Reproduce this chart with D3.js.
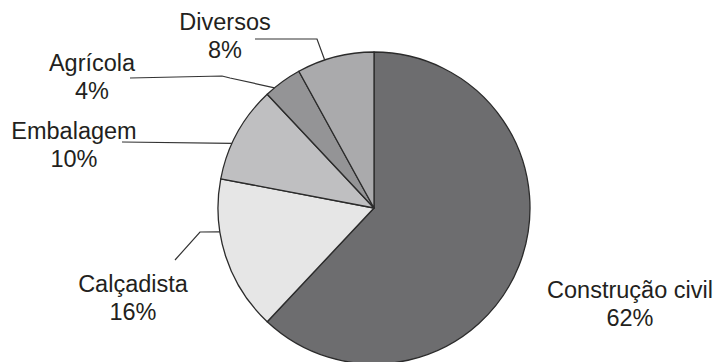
<!DOCTYPE html>
<html>
<head>
<meta charset="utf-8">
<script src="https://cdn.jsdelivr.net/npm/d3@7"></script>
<style>
  html, body { margin: 0; padding: 0; background: #fff; }
  svg { display: block; }
  text { font-family: "Liberation Sans", Arial, Helvetica, sans-serif; fill: #231f20; }
</style>
</head>
<body>
<svg id="chart" width="721" height="362"></svg>
<script>
// Sector shares (%)
const categories = ["Construção civil", "Calçadista", "Embalagem", "Agrícola", "Diversos"];
const shares = [62, 16, 10, 4, 8];
const percentLabels = ["62%", "16%", "10%", "4%", "8%"];
const fills = ["#6d6d6f", "#e6e6e6", "#bfbfc1", "#949496", "#aaaaac"];

// Label placement: text centre, and leader-line route (anchor fraction within slice, elbow points)
const labelLayout = {
  "Construção civil": { x: 630, y: 298, leader: null },
  "Calçadista":       { x: 133, y: 292, leader: { t: 0.66, pts: [[200, 232], [175, 260]] } },
  "Embalagem":        { x: 74,  y: 139, leader: { t: 0.38, pts: [[122, 142]] } },
  "Agrícola":         { x: 92,  y: 71,  leader: { t: 0.25, pts: [[230, 78], [222, 76], [130, 78]] } },
  "Diversos":         { x: 225, y: 30,  leader: { t: 0.36, pts: [[317, 39], [255, 39]] } }
};

const width = 721, height = 362;
const cx = 374, cy = 208, radius = 156;

const svg = d3.select("#chart");
const g = svg.append("g").attr("transform", `translate(${cx},${cy})`);

const pie = d3.pie().sort(null).value(d => d.value);
const arcs = pie(categories.map((c, i) => ({ name: c, value: shares[i], pct: percentLabels[i], fill: fills[i] })));

const arc = d3.arc().innerRadius(0).outerRadius(radius);

g.selectAll("path.slice")
  .data(arcs)
  .join("path")
  .attr("class", "slice")
  .attr("d", arc)
  .attr("fill", d => d.data.fill)
  .attr("stroke", "#2b2b2b")
  .attr("stroke-width", 1.3)
  .attr("stroke-linejoin", "round");

// Leader lines from the rim out to each label
const line = d3.line();
arcs.forEach(d => {
  const lay = labelLayout[d.data.name];
  if (!lay.leader) return;
  const a = d.startAngle + (d.endAngle - d.startAngle) * lay.leader.t;
  const anchor = [cx + radius * Math.sin(a), cy - radius * Math.cos(a)];
  svg.append("path")
    .attr("d", line([anchor, ...lay.leader.pts]))
    .attr("fill", "none")
    .attr("stroke", "#333")
    .attr("stroke-width", 1.2);
});

// Category and percentage labels
const labels = svg.selectAll("g.label")
  .data(arcs)
  .join("g")
  .attr("class", "label")
  .attr("transform", d => `translate(${labelLayout[d.data.name].x},${labelLayout[d.data.name].y})`);

labels.append("text")
  .attr("text-anchor", "middle")
  .attr("font-size", 23.5)
  .text(d => d.data.name);

labels.append("text")
  .attr("text-anchor", "middle")
  .attr("font-size", 23.5)
  .attr("y", 28)
  .text(d => d.data.pct);
</script>
</body>
</html>
